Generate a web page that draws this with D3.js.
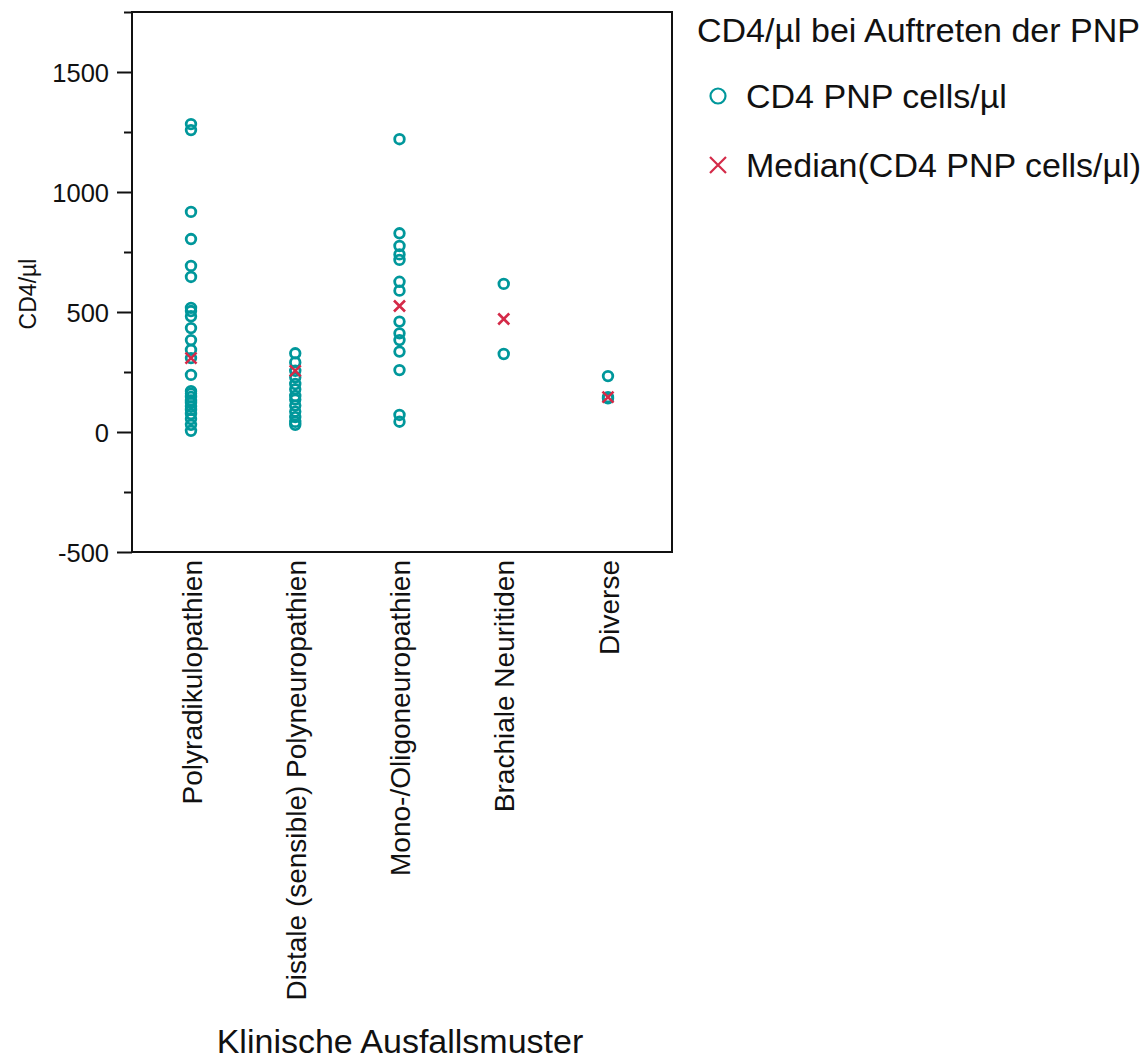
<!DOCTYPE html>
<html>
<head>
<meta charset="utf-8">
<script src="https://cdn.jsdelivr.net/npm/d3@7"></script>
<style>
  html, body { margin: 0; padding: 0; background: #fff; }
  svg { display: block; font-family: "Liberation Sans", Arial, Helvetica, sans-serif; }
</style>
</head>
<body>
<svg id="chart" width="1148" height="1059"></svg>
<script>
// Clinical patterns (x categories)
const categories = [
  "Polyradikulopathien",
  "Distale (sensible) Polyneuropathien",
  "Mono-/Oligoneuropathien",
  "Brachiale Neuritiden",
  "Diverse"
];

// CD4 cells/µl at onset of the PNP, one list per pattern
const polyradikulo = [1283, 1258, 917, 804, 692, 646, 517, 504, 482, 433, 383, 342, 308,
  238, 170, 160, 146, 130, 121, 105, 92, 75, 54, 30, 5];
const distale = [328, 290, 255, 228, 200, 178, 150, 135, 110, 85, 62, 42, 30];
const monoOligo = [1220, 828, 775, 740, 717, 626, 589, 460, 411, 383, 335, 258, 71, 43];
const brachiale = [617, 325];
const diverse = [233, 145, 140];
const seriesValues = [polyradikulo, distale, monoOligo, brachiale, diverse];

// Median per pattern
const medians = [308, 255, 525, 471, 145];

// Y axis ticks
const majorTicks = [-500, 0, 500, 1000, 1500];
const minorTicks = [-250, 250, 750, 1250, 1750];

const legendTitle = "CD4/µl bei Auftreten der PNP";
const legendLabels = ["CD4 PNP cells/µl", "Median(CD4 PNP cells/µl)"];
const yTitle = "CD4/µl";
const xTitle = "Klinische Ausfallsmuster";

const teal = "#00979b";
const red = "#d42a48";

const svg = d3.select("#chart");
const plot = { left: 132, right: 672, top: 12, bottom: 552 };

const y = d3.scaleLinear().domain([-500, 1750]).range([plot.bottom, plot.top]);
const x = d3.scalePoint().domain(categories)
  .range([plot.left + 59, plot.right - 64]);

// frame
svg.append("rect")
  .attr("x", plot.left).attr("y", plot.top)
  .attr("width", plot.right - plot.left).attr("height", plot.bottom - plot.top)
  .attr("fill", "none").attr("stroke", "#111").attr("stroke-width", 2);

// y axis: labelled major ticks and short minor ticks
const yAxis = svg.append("g").attr("transform", `translate(${plot.left},0)`)
  .call(d3.axisLeft(y).tickValues(majorTicks).tickSize(15).tickPadding(8)
    .tickFormat(d => String(d)));
yAxis.select(".domain").remove();
yAxis.selectAll(".tick line").attr("stroke", "#111").attr("stroke-width", 2);
yAxis.selectAll(".tick text").attr("font-size", 25.5).attr("fill", "#111")
  .attr("font-family", "Liberation Sans, Arial, sans-serif").attr("dy", "0.36em");

const yMinor = svg.append("g").attr("transform", `translate(${plot.left},0)`)
  .call(d3.axisLeft(y).tickValues(minorTicks).tickSize(8).tickFormat(""));
yMinor.select(".domain").remove();
yMinor.selectAll(".tick line").attr("stroke", "#111").attr("stroke-width", 2);

// x category labels, rotated
const xAxis = svg.append("g").attr("transform", `translate(0,${plot.bottom})`)
  .call(d3.axisBottom(x).tickSize(0).tickPadding(0));
xAxis.select(".domain").remove();
xAxis.selectAll(".tick text")
  .attr("font-size", 28).attr("fill", "#111")
  .attr("font-family", "Liberation Sans, Arial, sans-serif")
  .attr("text-anchor", "end")
  .attr("transform", "rotate(-90)")
  .attr("x", -8).attr("y", 0).attr("dy", "0.36em");

// axis titles
svg.append("text")
  .attr("transform", `translate(36,${(plot.top + plot.bottom) / 2 + 12}) rotate(-90)`)
  .attr("text-anchor", "middle").attr("font-size", 23).attr("fill", "#111")
  .text(yTitle);

svg.append("text")
  .attr("x", 400).attr("y", 1053)
  .attr("text-anchor", "middle").attr("font-size", 34).attr("fill", "#111")
  .text(xTitle);

// points
const flat = [];
seriesValues.forEach((vals, i) => vals.forEach(v => flat.push({ cat: categories[i], v })));

svg.append("g").selectAll("circle").data(flat).join("circle")
  .attr("cx", d => x(d.cat)).attr("cy", d => y(d.v)).attr("r", 4.8)
  .attr("fill", "none").attr("stroke", teal).attr("stroke-width", 2.8);

// median crosses
const cross = (g, s) => g.attr("d", `M${-s},${-s}L${s},${s}M${-s},${s}L${s},${-s}`);
svg.append("g").selectAll("path").data(medians).join("path")
  .attr("transform", (d, i) => `translate(${x(categories[i])},${y(d)})`)
  .call(cross, 5.5)
  .attr("fill", "none").attr("stroke", red).attr("stroke-width", 2.6);

// legend
const lg = svg.append("g");
lg.append("text").attr("x", 697).attr("y", 42)
  .attr("font-size", 34).attr("fill", "#111").text(legendTitle);
lg.append("circle").attr("cx", 718).attr("cy", 96).attr("r", 7.5)
  .attr("fill", "none").attr("stroke", teal).attr("stroke-width", 2.2);
lg.append("path").attr("transform", "translate(718,165)").call(cross, 8)
  .attr("fill", "none").attr("stroke", red).attr("stroke-width", 2.2);
lg.selectAll("text.item").data(legendLabels).join("text").attr("class", "item")
  .attr("x", 746).attr("y", (d, i) => 108 + i * 69)
  .attr("font-size", 34).attr("fill", "#111").text(d => d);
</script>
</body>
</html>
